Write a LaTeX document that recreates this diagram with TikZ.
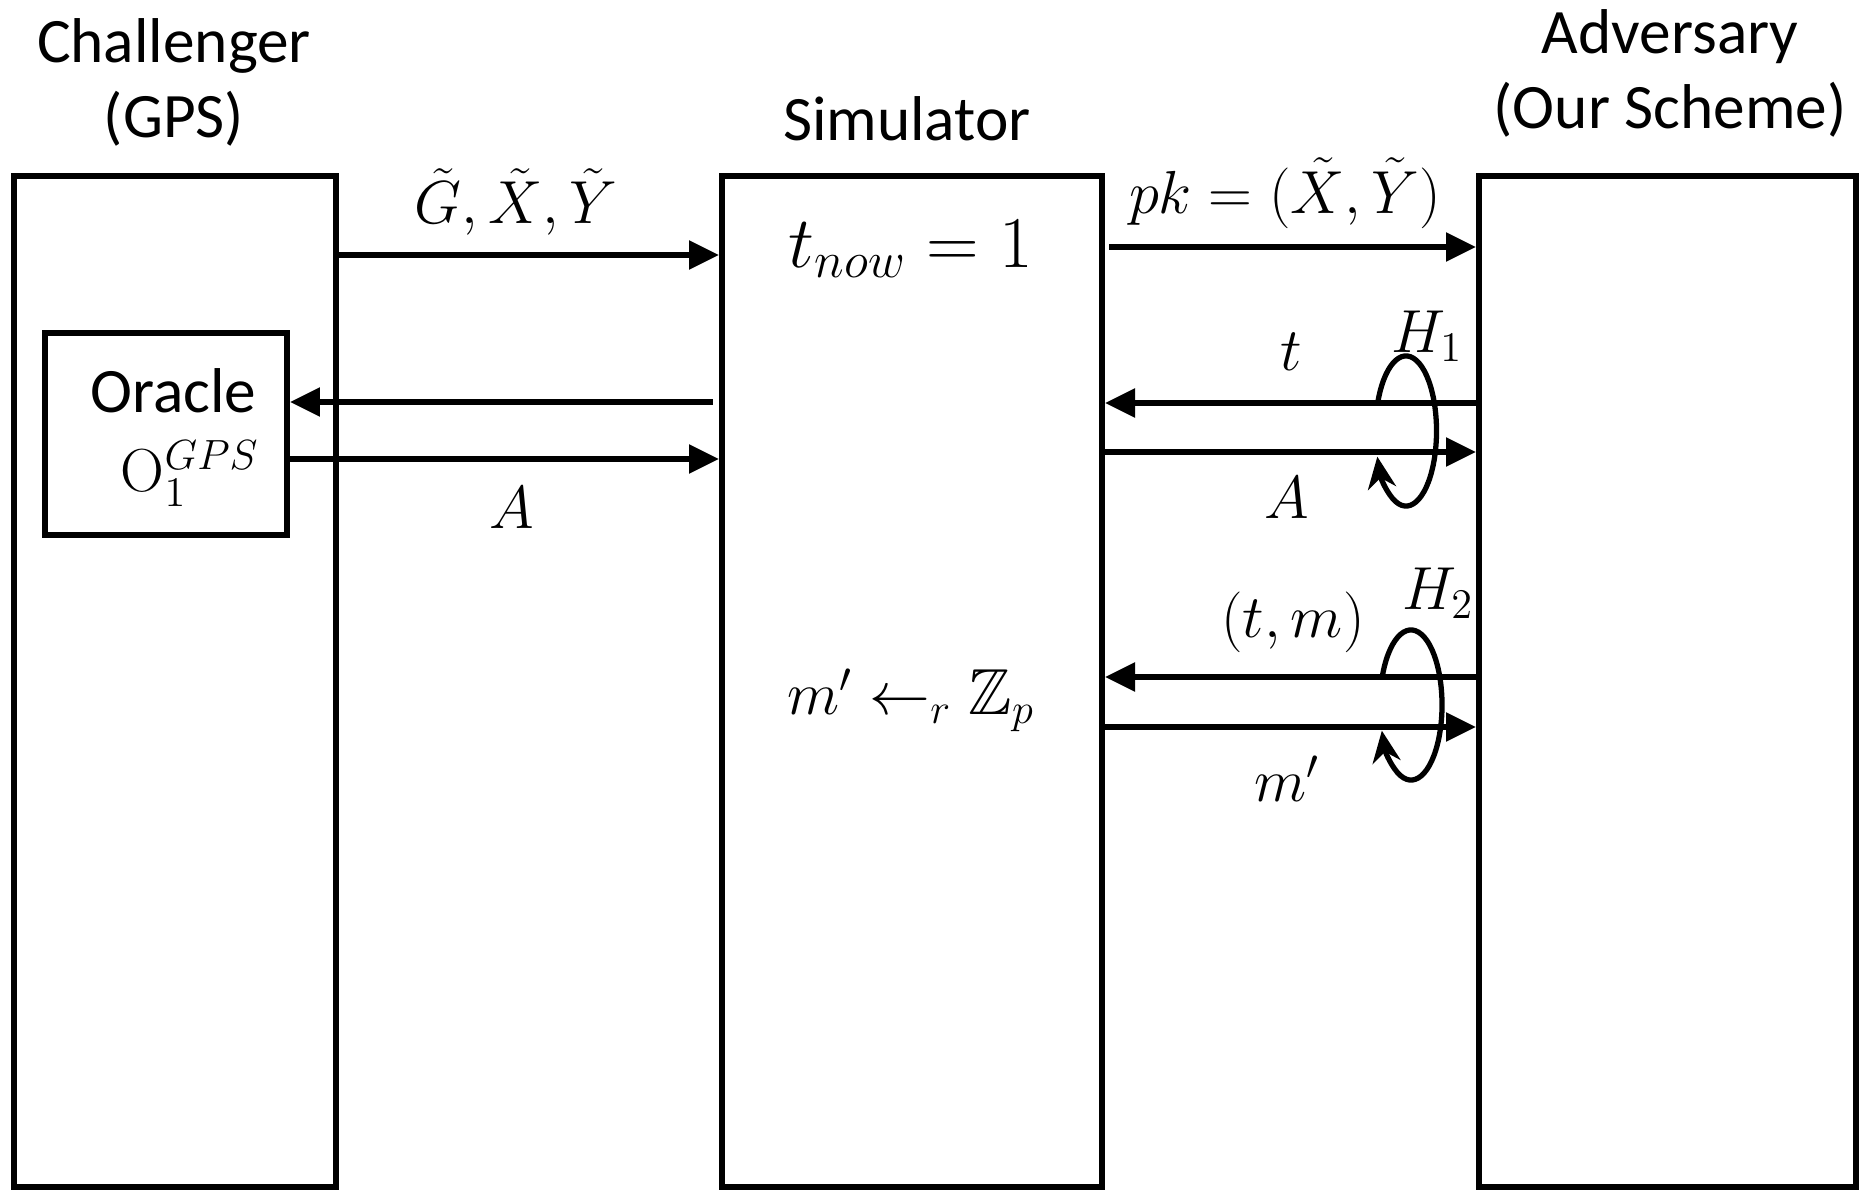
\documentclass[tikz,border=0pt]{standalone}
\usepackage[no-math]{fontspec}
\setmainfont{Carlito}
\usepackage{amsmath,amssymb}
\usetikzlibrary{arrows.meta,calc}
\begin{document}
\begin{tikzpicture}[x=0.01cm,y=-0.01cm,
  partybox/.style={draw, line width=1.7pt, inner sep=0pt},
  arr/.style={line width=1.5pt, -{Triangle[length=8.5pt,width=8pt]}},
  hloop/.style={line width=1.5pt, -{Stealth[length=9pt,width=8pt]}},
  lbl/.style={font=\fontsize{17}{20}\selectfont, inner sep=0pt},
  simlbl/.style={font=\fontsize{19.5}{23}\selectfont, inner sep=0pt},
  ttl/.style={font=\fontsize{18}{21.3}\selectfont, align=center, inner sep=0pt}]
\useasboundingbox (0,0) rectangle (1860,1191);
% titles
\node[ttl] (t1) at (174,82) {Challenger\\(GPS)};
\node[ttl] (t2) at (907,119) {Simulator};
\node[ttl] (t3) at (1670,73) {Adversary\\(Our Scheme)};
% boxes
\node[partybox, minimum width=3.22cm, minimum height=10.11cm] (chal) at (175,681.5) {};
\node[partybox, minimum width=3.80cm, minimum height=10.11cm] (sim) at (912,681.5) {};
\node[partybox, minimum width=3.77cm, minimum height=10.11cm] (adv) at (1667.5,681.5) {};
\node[partybox, minimum width=2.42cm, minimum height=2.02cm] (oracle) at (166,434) {};
\node[font=\fontsize{18}{21.3}\selectfont, anchor=east, inner sep=0pt] (orat) at (257,391) {Oracle};
\node[lbl, anchor=east] (oras) at (260,474) {$\mathrm{O}_1^{GPS}$};
% simulator texts
\node[simlbl] (tnow) at (911,249) {$t_{now} = 1$};
\node[lbl, font=\fontsize{18.5}{22}\selectfont] (mpr) at (911,700) {$m' \leftarrow_r \mathbb{Z}_p$};
% left arrows
\draw[arr] (chal.east |- 0,255) -- (sim.west |- 0,255);
\node[lbl] (lg) at (516,202) {$\tilde{G}, \tilde{X}, \tilde{Y}$};
\draw[arr] ($(sim.west |- 0,402)+(-6,0)$) -- (oracle.east |- 0,402);
\draw[arr] (oracle.east |- 0,459) -- (sim.west |- 0,459);
\node[lbl] (la1) at (512,508) {$A$};
% right arrows
\draw[arr] ($(sim.east |- 0,247)+(4,0)$) -- (adv.west |- 0,247);
\node[lbl] (lpk) at (1285,193) {$pk = (\tilde{X}, \tilde{Y})$};
\draw[arr] (adv.west |- 0,403) -- (sim.east |- 0,403);
\node[lbl] (lt) at (1291,352) {$t$};
\draw[arr] (sim.east |- 0,452) -- (adv.west |- 0,452);
\node[lbl] (la2) at (1287,498) {$A$};
\draw[arr] (adv.west |- 0,677) -- (sim.east |- 0,677);
\node[lbl] (ltm) at (1293,622) {$(t, m)$};
\draw[arr] (sim.east |- 0,727) -- (adv.west |- 0,727);
\node[lbl] (lm) at (1287,779) {$m'$};
% H loops
\coordinate (h1c) at (1406,431);
\draw[hloop] ($(h1c)+(160:0.305cm and 0.75cm)$) arc[start angle=160, end angle=-160, x radius=0.305cm, y radius=0.75cm];
\node[lbl] (lh1) at (1427,336) {$H_1$};
\coordinate (h2c) at (1411,705);
\draw[hloop] ($(h2c)+(160:0.31cm and 0.75cm)$) arc[start angle=160, end angle=-160, x radius=0.31cm, y radius=0.75cm];
\node[lbl] (lh2) at (1438,593) {$H_2$};
\end{tikzpicture}
\end{document}
